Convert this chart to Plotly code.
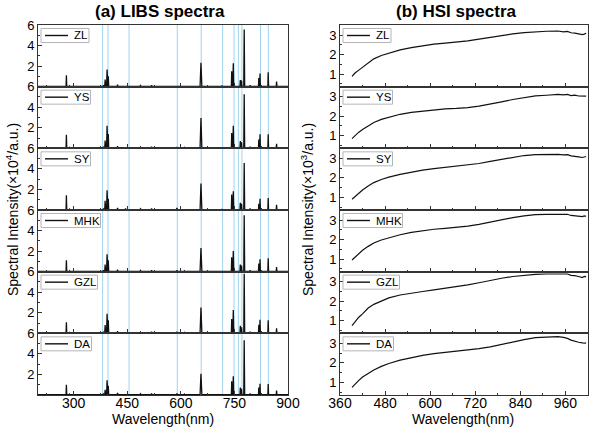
import plotly.graph_objects as go

# ---------------- DATA ----------------
samples = ["ZL", "YS", "SY", "MHK", "GZL", "DA"]

# LIBS: emission peak positions (nm) and heights (x10^4 a.u.)
libs_peak_nm = [247.9, 256.0, 279.5, 288.2, 383.0, 388.0, 393.4, 396.8, 422.7, 445.0, 487.0,
                518.0, 589.0, 610.0, 656.3, 715.0, 742.4, 746.8, 766.5, 769.9, 777.4,
                794.0, 818.3, 821.6, 844.6, 868.0]
libs_peak_halfwidth_nm = [1.0, 1.0, 1.0, 1.0, 1.0, 1.2, 1.4, 1.2, 1.2, 1.0, 1.5,
                          1.2, 1.2, 1.0, 2.5, 1.0, 1.0, 1.2, 1.0, 1.0, 1.3,
                          1.0, 1.0, 1.0, 1.0, 1.0]
libs_heights = {
    "ZL":  [0.10, 0.06, 1.10, 0.08, 0.15, 0.70, 1.67, 1.00, 0.20, 0.10, 0.12,
            0.15, 0.10, 0.08, 2.33, 0.10, 1.50, 2.27, 0.65, 0.60, 5.55,
            0.15, 0.83, 1.27, 1.40, 0.50],
    "YS":  [0.10, 0.06, 1.33, 0.08, 0.15, 0.75, 2.20, 1.40, 0.20, 0.10, 0.12,
            0.15, 0.12, 0.08, 2.95, 0.10, 1.50, 2.20, 0.70, 0.60, 5.25,
            0.15, 0.85, 1.36, 1.36, 0.45],
    "SY":  [0.10, 0.06, 1.43, 0.08, 0.15, 0.90, 1.93, 1.10, 0.20, 0.15, 0.12,
            0.15, 0.20, 0.08, 2.57, 0.10, 1.50, 1.83, 0.70, 0.60, 4.57,
            0.15, 0.60, 1.10, 1.17, 0.50],
    "MHK": [0.10, 0.06, 1.10, 0.08, 0.15, 0.70, 1.70, 1.10, 0.20, 0.10, 0.12,
            0.15, 0.15, 0.08, 2.30, 0.10, 1.40, 2.00, 0.70, 0.60, 5.50,
            0.15, 0.80, 1.20, 1.30, 0.45],
    "GZL": [0.10, 0.06, 1.07, 0.08, 0.15, 0.80, 1.90, 1.27, 0.20, 0.10, 0.12,
            0.15, 0.15, 0.08, 2.50, 0.10, 1.40, 2.27, 0.73, 0.60, 5.80,
            0.15, 0.83, 1.33, 1.27, 0.50],
    "DA":  [0.10, 0.06, 1.00, 0.08, 0.15, 0.50, 1.43, 0.90, 0.20, 0.10, 0.12,
            0.15, 0.15, 0.08, 2.07, 0.10, 1.33, 1.83, 0.73, 0.60, 5.33,
            0.15, 0.73, 1.10, 1.07, 0.43],
}
libs_baseline = 0.03
libs_range_nm = [200, 900]

# characteristic wavelengths marked by light-blue lines (nm)
marker_lines_nm = [381, 396, 455, 590, 657, 717, 749, 761, 771, 823, 845]

# HSI: reflectance spectra (x10^3 a.u.)
hsi_nm = [392, 400, 410, 420, 435, 450, 470, 490, 520, 550, 580, 610, 640, 670, 700,
          730, 760, 790, 820, 850, 880, 910, 940, 955, 965, 975, 985, 995, 1005, 1010, 1015]
hsi_values = {
    "ZL":  [0.88, 1.05, 1.20, 1.35, 1.58, 1.78, 1.95, 2.08, 2.24, 2.36, 2.46, 2.54, 2.59, 2.63, 2.70,
            2.79, 2.89, 2.98, 3.06, 3.13, 3.18, 3.20, 3.21, 3.17, 3.19, 3.12, 3.10, 3.06, 3.03, 3.05, 3.10],
    "YS":  [0.85, 1.00, 1.18, 1.32, 1.50, 1.68, 1.84, 1.95, 2.10, 2.20, 2.27, 2.33, 2.38, 2.40, 2.44,
            2.52, 2.62, 2.74, 2.86, 2.97, 3.05, 3.08, 3.12, 3.10, 3.12, 3.06, 3.08, 3.04, 3.02, 3.04, 3.03],
    "SY":  [0.90, 1.05, 1.22, 1.38, 1.58, 1.76, 1.92, 2.04, 2.18, 2.30, 2.40, 2.48, 2.55, 2.60, 2.66,
            2.74, 2.85, 2.96, 3.06, 3.15, 3.20, 3.22, 3.21, 3.18, 3.20, 3.13, 3.12, 3.08, 3.05, 3.08, 3.10],
    "MHK": [0.95, 1.10, 1.28, 1.45, 1.65, 1.82, 1.98, 2.10, 2.25, 2.37, 2.46, 2.53, 2.58, 2.63, 2.69,
            2.78, 2.90, 3.02, 3.13, 3.22, 3.28, 3.30, 3.31, 3.28, 3.30, 3.24, 3.23, 3.20, 3.18, 3.22, 3.20],
    "GZL": [0.75, 0.95, 1.18, 1.35, 1.65, 1.84, 2.00, 2.17, 2.32, 2.42, 2.50, 2.58, 2.66, 2.75, 2.84,
            2.95, 3.07, 3.18, 3.27, 3.34, 3.38, 3.40, 3.41, 3.38, 3.40, 3.33, 3.32, 3.27, 3.22, 3.28, 3.25],
    "DA":  [0.74, 0.92, 1.10, 1.27, 1.47, 1.64, 1.82, 1.97, 2.14, 2.28, 2.39, 2.48, 2.54, 2.60, 2.66,
            2.73, 2.82, 2.95, 3.08, 3.20, 3.30, 3.34, 3.35, 3.31, 3.26, 3.17, 3.10, 3.06, 3.03, 3.02, 3.02],
}
hsi_range_nm = [360, 1020]

# ---------------- LAYOUT HELPERS ----------------
W, H = 591, 430
FONT = "Liberation Sans, Arial, sans-serif"
AX = "#333333"
top_px, panel_px = 25.0, 370.0 / 6
left_px = (38, 288)
right_px = (340, 588)


def ydom(i):
    return [1 - (top_px + (i + 1) * panel_px) / H, 1 - (top_px + i * panel_px) / H]


def libs_line(heights):
    xs, ys = [libs_range_nm[0]], [libs_baseline]
    for w, hw, h in zip(libs_peak_nm, libs_peak_halfwidth_nm, heights):
        xs += [w - hw, w, w + hw]
        ys += [libs_baseline, h, libs_baseline]
    xs.append(libs_range_nm[1])
    ys.append(libs_baseline)
    return xs, ys


fig = go.Figure()
layout = dict(
    width=W, height=H, margin=dict(l=0, r=0, t=0, b=0, autoexpand=False),
    paper_bgcolor="white", plot_bgcolor="rgba(0,0,0,0)",
    showlegend=False, font=dict(family=FONT, color="black"),
)
shapes, annotations = [], []

base_axis = dict(showline=True, linecolor=AX, linewidth=1, mirror=True, automargin=False,
                 ticks="inside", tickcolor=AX, ticklen=4, showgrid=False, zeroline=False)

label_w = {"ZL": 13, "YS": 14.5, "SY": 14.5, "MHK": 24.5, "GZL": 21.5, "DA": 15.5}

for side in range(2):
    for i, name in enumerate(samples):
        n = side * 6 + i + 1
        xk = "x" if n == 1 else f"x{n}"
        yk = "y" if n == 1 else f"y{n}"
        xname = "xaxis" if n == 1 else f"xaxis{n}"
        yname = "yaxis" if n == 1 else f"yaxis{n}"
        bottom = (i == 5)
        if side == 0:
            xs, ys = libs_line(libs_heights[name])
            fig.add_trace(go.Scatter(x=xs, y=ys, mode="lines", name=name,
                                     line=dict(color="#111111", width=1.3),
                                     xaxis=xk, yaxis=yk))
            xdom = [left_px[0] / W, left_px[1] / W]
            layout[xname] = dict(base_axis, domain=xdom, anchor=yk, range=libs_range_nm,
                                 tickmode="linear", tick0=300, dtick=150,
                                 minor=dict(ticks="inside", ticklen=2, tickcolor=AX,
                                            tickmode="linear", tick0=300, dtick=75),
                                 showticklabels=bottom, tickfont=dict(size=14),
                                 ticklabelstandoff=-5)
            layout[yname] = dict(base_axis, domain=ydom(i), anchor=xk, range=[0, 6],
                                 tickmode="array", tickvals=[2, 4, 6],
                                 minor=dict(ticks="inside", ticklen=2, tickcolor=AX,
                                            tickmode="linear", tick0=0, dtick=1),
                                 tickfont=dict(size=13))
        else:
            fig.add_trace(go.Scatter(x=hsi_nm, y=hsi_values[name], mode="lines", name=name,
                                     line=dict(color="#111111", width=1.2),
                                     xaxis=xk, yaxis=yk))
            xdom = [right_px[0] / W, right_px[1] / W]
            layout[xname] = dict(base_axis, domain=xdom, anchor=yk, range=hsi_range_nm,
                                 tickmode="linear", tick0=360, dtick=120,
                                 minor=dict(ticks="inside", ticklen=2, tickcolor=AX,
                                            tickmode="linear", tick0=360, dtick=60),
                                 showticklabels=bottom, tickfont=dict(size=14),
                                 ticklabelstandoff=-5)
            layout[yname] = dict(base_axis, domain=ydom(i), anchor=xk, range=[0.35, 3.52],
                                 tickmode="array", tickvals=[1, 2, 3],
                                 minor=dict(ticks="inside", ticklen=2, tickcolor=AX,
                                            tickmode="linear", tick0=0.5, dtick=0.5),
                                 tickfont=dict(size=13))
        if n not in (1, 7):
            layout[xname]["matches"] = "x" if side == 0 else "x7"

        # legend box drawn inside the panel (pixel offsets converted to domain fractions)
        pw = (left_px[1] - left_px[0]) if side == 0 else (right_px[1] - right_px[0])
        bx0, bx1 = 3, 34 + label_w[name] + 4
        by0, by1 = 3.5, 17.5
        shapes.append(dict(type="rect", xref=f"{xk} domain", yref=f"{yk} domain",
                           x0=bx0 / pw, x1=bx1 / pw, y0=1 - by1 / panel_px, y1=1 - by0 / panel_px,
                           line=dict(color="#b5b5b5", width=1), fillcolor="white", layer="above"))
        shapes.append(dict(type="line", xref=f"{xk} domain", yref=f"{yk} domain",
                           x0=7 / pw, x1=30 / pw, y0=1 - 10.5 / panel_px, y1=1 - 10.5 / panel_px,
                           line=dict(color="#111111", width=1.4), layer="above"))
        annotations.append(dict(text=name, xref=f"{xk} domain", yref=f"{yk} domain",
                                x=34 / pw, y=1 - 10.5 / panel_px, xanchor="left", yanchor="middle",
                                showarrow=False, font=dict(size=11.5, family=FONT, color="black")))

# light-blue characteristic lines across all LIBS panels
y_lo, y_hi = 1 - (top_px + 6 * panel_px) / H, 1 - top_px / H
for w in marker_lines_nm:
    shapes.append(dict(type="line", xref="x", yref="paper", x0=w, x1=w, y0=y_lo, y1=y_hi,
                       line=dict(color="#9fd4ef", width=1), layer="below"))


# titles
def paper_text(text, xp, yp, size, angle=0):
    return dict(text=text, x=xp / W, y=1 - yp / H, xref="paper", yref="paper",
                xanchor="center", yanchor="middle", showarrow=False, textangle=angle,
                font=dict(size=size, family=FONT, color="black"))


annotations += [
    paper_text("<b>(a) LIBS spectra</b>", 160, 11.5, 17),
    paper_text("<b>(b) HSI spectra</b>", 457, 11.5, 17),
    paper_text("Wavelength(nm)", 163, 419, 14),
    paper_text("Wavelength(nm)", 463, 419, 14),
    paper_text("Spectral Intensity(×10<sup>4</sup>/a.u.)", 12, 210, 14, -90),
    paper_text("Spectral Intensity(×10<sup>3</sup>/a.u.)", 307, 210, 14, -90),
]

layout["shapes"] = shapes
layout["annotations"] = annotations
fig.update_layout(**layout)
fig.write_html(
    "out.html",
    config={"displayModeBar": False},
    post_script="document.body.style.margin='0';document.body.style.overflow='hidden';",
)
